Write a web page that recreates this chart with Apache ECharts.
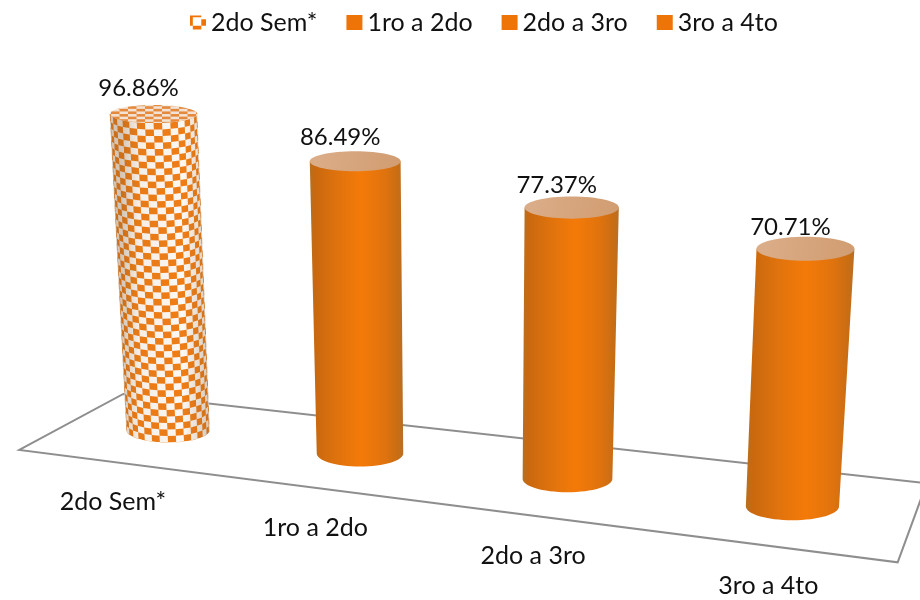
<!DOCTYPE html>
<html>
<head>
<meta charset="utf-8">
<style>html,body{margin:0;padding:0;background:#fff}#c{width:920px;height:600px}</style>
<script src="https://cdn.jsdelivr.net/npm/echarts@6/dist/echarts.min.js"></script>
</head>
<body>
<div id="c"></div>
<script>
var categories = ['2do Sem*', '1ro a 2do', '2do a 3ro', '3ro a 4to'];
var values = [96.86, 86.49, 77.37, 70.71];
var checkered = [true, false, false, false];

var ORANGE = '#EE7408';
var FONT = 'Lato';
var FLAT_BAND = 200, FLAT_UNIT = 3.262;

function lerp(a,b,t){return a+(b-a)*t;}

// perspective of the floor: flat band index -> picture position
function project(u){
  var w = 1 - 0.03735*u;
  return [(178.55*u+168)/w, (6.5*u+430)/w];
}
function depthScale(baseY){ return (3.262 + (baseY-430)*0.00498)/FLAT_UNIT; }
function floorPoint(u,d){
  var p = project(u), t = (u+0.5)/4;
  return [p[0]+lerp(-6,0,t)+d*lerp(-52,-14.5,t), p[1]+lerp(3,2,t)+d*lerp(28,39.5,t)];
}
var VP = [467, 6950];

function geometry(api){
  var flat0 = api.coord([api.value(0),0]);
  var flatV = api.coord([api.value(0),api.value(1)]);
  var u = (flat0[0]-FLAT_BAND/2)/FLAT_BAND;
  var b = project(u), k = depthScale(b[1]);
  var h = (flat0[1]-flatV[1])*k;
  var rb = 12.8*FLAT_UNIT*k, ryb = rb*0.3;
  var ty = b[1]-h;
  var tx = b[0]+(VP[0]-b[0])/(VP[1]-b[1])*(ty-b[1]);
  var rt = rb*1.05, ryt = 9+(ty-114)*0.022;
  return {u:u,bx:b[0],by:b[1],tx:tx,ty:ty,rb:rb,ryb:ryb,rt:rt,ryt:ryt};
}
function bodyPath(g){
  var K=0.5523;
  var x1=g.bx-g.rb,x2=g.bx+g.rb;
  return 'M'+(g.tx-g.rt)+' '+g.ty+
    'L'+x1+' '+g.by+
    'C'+x1+' '+(g.by+K*g.ryb)+' '+(g.bx-K*g.rb)+' '+(g.by+g.ryb)+' '+g.bx+' '+(g.by+g.ryb)+
    'C'+(g.bx+K*g.rb)+' '+(g.by+g.ryb)+' '+x2+' '+(g.by+K*g.ryb)+' '+x2+' '+g.by+
    'L'+(g.tx+g.rt)+' '+g.ty+'Z';
}
function newCanvas(){var c=document.createElement('canvas');c.width=920;c.height=600;return c;}

function checkerBody(g){
  var c=newCanvas(),x=c.getContext('2d');
  x.fillStyle='#FBF7F2';x.fillRect(0,0,920,600);
  var rows=Math.round((g.by-g.ty)/6.4),cols=16;
  function P(th,t){
    var cx=lerp(g.bx,g.tx,t),r=lerp(g.rb,g.rt,t),ry=lerp(g.ryb,g.ryt,t),y0=lerp(g.by,g.ty,t);
    return [cx+r*Math.sin(th),y0+ry*Math.cos(th)];
  }
  x.fillStyle='#EE7D16';
  for(var j=-3;j<rows+1;j++)for(var i=0;i<cols;i++){
    if((i+j+300)%2)continue;
    var a=-Math.PI/2+Math.PI*i/cols,b=a+Math.PI/cols,t0=j/rows,t1=(j+1)/rows;
    var p=[P(a,t0),P(b,t0),P(b,t1),P(a,t1)];
    x.beginPath();x.moveTo(p[0][0],p[0][1]);for(var n=1;n<4;n++)x.lineTo(p[n][0],p[n][1]);x.closePath();x.fill();
  }
  var gr=x.createLinearGradient(g.bx-g.rb-5,0,g.bx+g.rb,0);
  gr.addColorStop(0,'rgba(120,80,40,.3)');gr.addColorStop(.2,'rgba(120,80,40,.05)');
  gr.addColorStop(.7,'rgba(120,80,40,0)');gr.addColorStop(1,'rgba(120,80,40,.28)');
  x.fillStyle=gr;x.fillRect(0,0,920,600);
  return c;
}
function checkerTop(g){
  var c=newCanvas(),x=c.getContext('2d');
  x.fillStyle='#F2E3D6';x.fillRect(0,0,920,600);
  var w=8.5,h=2.6;
  x.fillStyle='#E58A3C';
  for(var j=-6;j<7;j++)for(var i=-7;i<7;i++){
    if((i+j+100)%2)continue;
    x.fillRect(g.tx+i*w,g.ty+j*h,w,h);
  }
  return c;
}

function renderFloor(){
  var pts=[floorPoint(-0.5,1),floorPoint(-0.5,-1),floorPoint(3.5,-1),floorPoint(3.5,1)];
  return {type:'polygon',silent:true,shape:{points:pts},style:{fill:'#fff',stroke:'#8E8E8E',lineWidth:2}};
}

var bodyFill={
  type:'linear',x:0,y:0,x2:1,y2:0,
  colorStops:[
    {offset:0,color:'#B8701F'},{offset:.06,color:'#C9680F'},{offset:.3,color:'#E0730D'},
    {offset:.55,color:'#F47A08'},{offset:.8,color:'#E0730E'},{offset:.95,color:'#C76D14'},{offset:1,color:'#B5702A'}]
};
var topFill={type:'linear',x:0,y:0,x2:1,y2:1,colorStops:[{offset:0,color:'#DBAE8A'},{offset:1,color:'#D19C70'}]};

function renderCylinder(idx){
  return function(params,api){
    var g=geometry(api);
    var chk=checkered[idx];
    var labelY=g.ty-(26-0.037*(g.ty-114));
    return {type:'group',children:[
      {type:'path',shape:{pathData:bodyPath(g)},
       style:{fill:chk?{image:checkerBody(g),repeat:'repeat'}:bodyFill}},
      {type:'ellipse',shape:{cx:g.tx,cy:g.ty,rx:g.rt,ry:g.ryt},
       style:{fill:chk?{image:checkerTop(g),repeat:'repeat'}:topFill}},
      {type:'text',x:g.tx-15,y:labelY,
       style:{text:values[idx].toFixed(2)+'%',font:'24px '+FONT,fill:'#111',textAlign:'center',textVerticalAlign:'middle'}},
      {type:'text',x:g.bx-55+10.3*g.u,y:g.by+71.5+2.8*g.u,
       style:{text:categories[idx],font:'25px '+FONT,fill:'#111',textAlign:'center',textVerticalAlign:'middle'}}
    ]};
  };
}

var series=[{name:'floor',type:'custom',silent:true,z:1,data:[[0,0]],renderItem:renderFloor}];
categories.forEach(function(name,i){
  series.push({name:name,type:'custom',z:2,silent:true,itemStyle:{color:ORANGE},
    encode:{x:0,y:1},data:[[name,values[i]]],renderItem:renderCylinder(i)});
});

var chart=echarts.init(document.getElementById('c'),null,{renderer:'canvas'});
chart.setOption({
  animation:false,
  backgroundColor:'#fff',
  grid:{left:0,top:0,width:FLAT_BAND*categories.length,height:FLAT_UNIT*100},
  xAxis:{type:'category',data:categories,show:false},
  yAxis:{type:'value',min:0,max:100,show:false},
  legend:{
    left:185,top:5,itemWidth:16,itemHeight:15,itemGap:29,selectedMode:false,
    textStyle:{fontFamily:FONT,fontSize:25,color:'#111'},
    data:categories.map(function(n,i){
      return checkered[i]
        ? {name:n,icon:'path://M0 0H12V2H3V11H0ZM12 4H17V11H12ZM3 11H12V15H3Z',itemStyle:{color:ORANGE}}
        : {name:n,icon:'rect',itemStyle:{color:ORANGE}};
    })
  },
  series:series
});
</script>
</body>
</html>
